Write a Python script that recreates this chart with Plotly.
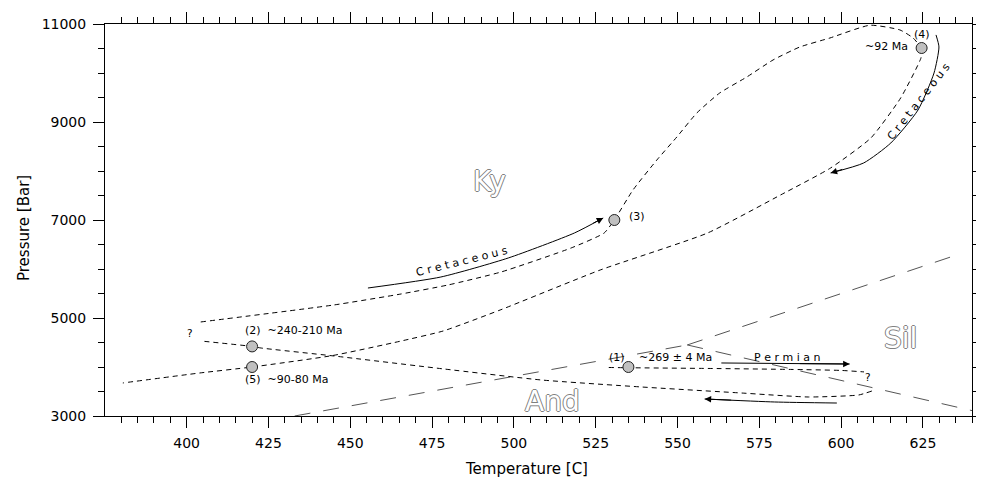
import plotly.graph_objects as go

# ---------------- data ----------------
# Aluminosilicate phase boundaries (Temperature C, Pressure Bar)
ky_and_T = [433, 553]
ky_and_P = [3000, 4450]
ky_sil_T = [553, 635.5]
ky_sil_P = [4450, 6290]
and_sil_T = [553, 640]
and_sil_P = [4450, 3110]

# Permian path: (1) eastward to "?"
perm_out_T = [529, 535, 560, 585, 600, 607]
perm_out_P = [3990, 3985, 3970, 3950, 3930, 3900]
# return path from "?" westward through (2)
perm_back_T = [609.4, 605.4, 590.1, 569.6, 539.0, 508.4, 478.7, 445.0, 422.7, 420.0, 404.3]
perm_back_P = [3510, 3429, 3388, 3469, 3592, 3735, 3959, 4225, 4388, 4420, 4531]

# Cretaceous prograde path: "?" -> (3) -> loop -> (4)
cret_up_T = [404.3, 445.0, 465.5, 479.9, 496.1, 517.5, 527.6, 530.7, 536.4, 543.7, 549.8,
             555.9, 562.9, 571.2, 579.2, 587.4, 596.6, 608.8, 618.0, 622.0, 624.6]
cret_up_P = [4919, 5266, 5490, 5674, 5939, 6429, 6735, 7000, 7613, 8225, 8694,
             9184, 9592, 9919, 10266, 10531, 10715, 10975, 10878, 10715, 10510]

# Cretaceous retrograde path: (4) -> (5) -> left edge
cret_down_T = [624.6, 624.4, 618.2, 609.1, 596.8, 581.5, 559.2, 526.4, 495.8, 478.4,
               465.2, 444.7, 420.0, 404.0, 380.5]
cret_down_P = [10510, 10307, 9490, 8674, 8062, 7511, 6735, 5980, 5163, 4735,
               4525, 4235, 4000, 3878, 3674]

# Dated points
pt_T = [535, 420, 530.7, 624.6, 420]
pt_P = [4000, 4420, 7000, 10510, 4000]

# Solid arrows
arr1_T = [455.4, 477.7, 498.3, 518.5, 527.3]        # Cretaceous (prograde)
arr1_P = [5612, 5837, 6225, 6735, 7041]
arr2_T = [629.0, 629.9, 628.4, 623.5, 615.2, 606.9, 596.8]  # Cretaceous (retrograde)
arr2_P = [10777, 10531, 10001, 9245, 8572, 8164, 7960]
arr3_T = [563.4, 602.6]                                # Permian
arr3_P = [4082, 4061]
arr4_T = [598.7, 579.7, 558.3]                         # return
arr4_P = [3265, 3286, 3347]

x_ticks = [400, 425, 450, 475, 500, 525, 550, 575, 600, 625]
y_ticks = [3000, 5000, 7000, 9000, 11000]

FONT = "DejaVu Sans, Verdana, sans-serif"

fig = go.Figure()

bound_style = dict(color="#555555", width=1, dash="16px,13px")
for tx, py in [(ky_and_T, ky_and_P), (ky_sil_T, ky_sil_P), (and_sil_T, and_sil_P)]:
    fig.add_trace(go.Scatter(x=tx, y=py, mode="lines", line=bound_style,
                             hoverinfo="skip", showlegend=False))

path_style = dict(color="black", width=1, dash="5px,4px", shape="spline", smoothing=0.5)
for tx, py in [(perm_out_T, perm_out_P), (perm_back_T, perm_back_P),
               (cret_up_T, cret_up_P), (cret_down_T, cret_down_P)]:
    fig.add_trace(go.Scatter(x=tx, y=py, mode="lines", line=path_style,
                             hoverinfo="skip", showlegend=False))

arrow_style = dict(color="black", width=1, shape="spline", smoothing=0.6)
arrows = [(arr1_T, arr1_P), (arr2_T, arr2_P), (arr3_T, arr3_P), (arr4_T, arr4_P)]
for tx, py in arrows:
    fig.add_trace(go.Scatter(x=tx, y=py, mode="lines", line=arrow_style,
                             hoverinfo="skip", showlegend=False))
    fig.add_annotation(x=tx[-1], y=py[-1], ax=tx[-2] + (tx[-1] - tx[-2]) * 0.6,
                       ay=py[-2] + (py[-1] - py[-2]) * 0.6,
                       xref="x", yref="y", axref="x", ayref="y", text="",
                       showarrow=True, arrowhead=2, arrowsize=1.3, arrowwidth=1,
                       arrowcolor="black", standoff=0)

fig.add_trace(go.Scatter(x=pt_T, y=pt_P, mode="markers",
                         marker=dict(size=11, color="#c0c0c0",
                                     line=dict(color="#222222", width=1)),
                         hoverinfo="skip", showlegend=False))

def txt(x, y, s, size=11, xanchor="center", angle=0, color="black", shadow=None,
        xref="x", yref="y"):
    f = dict(family=FONT, size=size, color=color)
    if shadow:
        f["shadow"] = shadow
    fig.add_annotation(x=x, y=y, text=s, showarrow=False, xanchor=xanchor,
                       yanchor="middle", textangle=angle, font=f, xref=xref, yref=yref)

txt(417.1, 4735, "(2)&nbsp;&nbsp;~240-210 Ma", xanchor="left")
txt(417.1, 3735, "(5)&nbsp;&nbsp;~90-80 Ma", xanchor="left")
txt(531.5, 4204, "(1)")
txt(537.6, 4204, "~269 ± 4 Ma", xanchor="left")
txt(534.5, 7062, "(3)", xanchor="left")
txt(624.7, 10776, "(4)")
txt(621.0, 10531, "~92 Ma", xanchor="right")
txt(400.9, 4694, "?", size=10.5)
txt(608.2, 3796, "?", size=10.5)

txt(484.1, 6143, " ".join("Cretaceous"), angle=-14)
txt(623.8, 9409, " ".join("Cretaceous"), angle=-52)
txt(583.4, 4204, " ".join("Permian"))

outline = "-1px 0 #808080, 1px 0 #808080, 0 -1px #808080, 0 1px #808080"
txt(492.6, 7776, "Ky", size=28, color="white", shadow=outline)
txt(618.3, 4572, "Sil", size=28, color="white", shadow=outline)
txt(511.9, 3306, "And", size=28, color="white", shadow=outline)

# axis titles (placed as in the picture)
txt(0.4867, -0.135, "Temperature [C]", size=15, xref="paper", yref="paper")
txt(-0.0934, 0.4796, "Pressure [Bar]", size=15, angle=-90, xref="paper", yref="paper")

axis_common = dict(showline=True, linecolor="black", linewidth=1, mirror="ticks",
                   ticks="outside", ticklen=11, tickwidth=1, tickcolor="black",
                   showgrid=False, zeroline=False, automargin=False,
                   tickfont=dict(family=FONT, size=14, color="black"))

fig.update_xaxes(range=[375.05, 640], tickvals=x_ticks, tickformat="d",
                 ticklabelstandoff=3,
                 minor=dict(dtick=5, tick0=375, ticks="outside", ticklen=6,
                            tickcolor="black", tickwidth=1, showgrid=False),
                 **axis_common)
fig.update_yaxes(range=[3000, 11000], tickvals=y_ticks, tickformat="d",
                 ticklabelstandoff=4,
                 minor=dict(dtick=500, tick0=3000, ticks="outside", ticklen=6,
                            tickcolor="black", tickwidth=1, showgrid=False),
                 **axis_common)

fig.update_layout(template="none", width=976, height=470,
                  margin=dict(l=97, r=12, t=16, b=62),
                  paper_bgcolor="white", plot_bgcolor="white",
                  font=dict(family=FONT, color="black"), showlegend=False)

fig.write_html("out.html")
